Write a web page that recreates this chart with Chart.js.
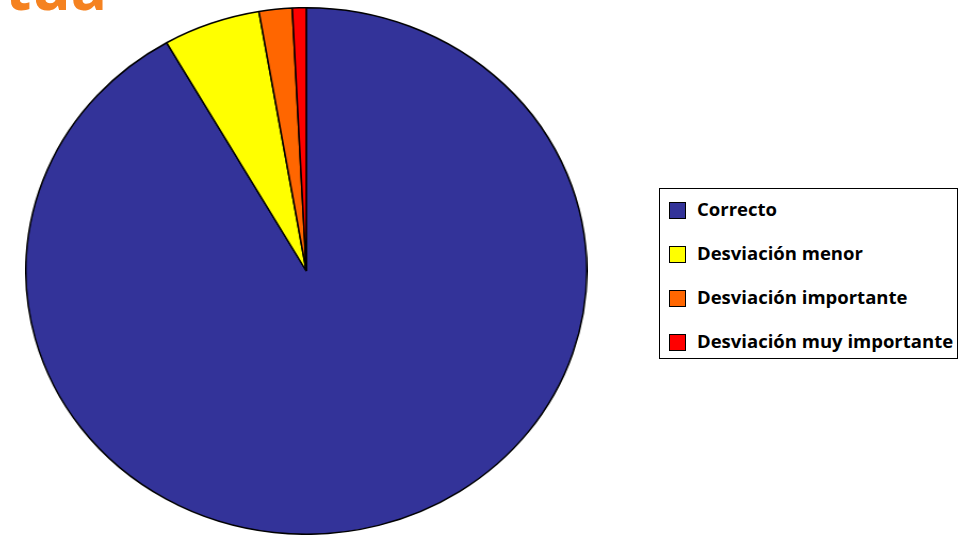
<!DOCTYPE html>
<html>
<head>
<meta charset="utf-8">
<script src="https://cdn.jsdelivr.net/npm/chart.js@4/dist/chart.umd.min.js"></script>
<style>
  html, body { margin: 0; padding: 0; background: #fff; }
  body { width: 958px; height: 535px; position: relative; overflow: hidden; }
  #titulo {
    position: absolute; left: 0; top: -43px; width: 107px; text-align: right;
    font: bold 60px "Open Sans", sans-serif; line-height: 60px; color: #F58220; white-space: nowrap;
  }
  #pieWrap {
    position: absolute; left: 25px; top: 7px; width: 528px; height: 528px;
    transform: scaleX(1.0655); transform-origin: 0 0;
  }
  #leyenda {
    position: absolute; left: 659px; top: 188px; width: 297px; height: 169px;
    border: 1px solid #000; box-sizing: content-box;
  }
  .item {
    position: absolute; left: 9px; height: 22px; line-height: 22px;
    font: bold 18.5px "Open Sans", sans-serif; color: #000; white-space: nowrap;
  }
  .item span.box {
    display: inline-block; width: 17px; height: 17px; border: 1px solid #000;
    vertical-align: -3px; margin-right: 11px; box-sizing: border-box;
  }
</style>
</head>
<body>
<div id="titulo">tua</div>
<div id="pieWrap"><canvas id="pie" width="528" height="528"></canvas></div>
<div id="leyenda"></div>
<script>
// Datos del gráfico (porcentajes)
const categorias = ['Correcto', 'Desviación menor', 'Desviación importante', 'Desviación muy importante'];
const valores = [91.7, 5.6, 1.9, 0.8];
const colores = ['#333399', '#FFFF00', '#FF6600', '#FF0000'];

const ctx = document.getElementById('pie').getContext('2d');

const chart = new Chart(ctx, {
    type: 'pie',
    data: {
        labels: categorias,
        datasets: [{
            data: valores,
            backgroundColor: colores,
            borderColor: '#000000',
            borderWidth: 1.5,
        }],
    },
    options: {
        responsive: false,
        animation: false,
        layout: { padding: 0 },
        plugins: {
            legend: { display: false },
            tooltip: { enabled: false },
        },
    },
});

// Leyenda en HTML con recuadro
const leyenda = document.getElementById('leyenda');
categorias.forEach((cat, i) => {
    const div = document.createElement('div');
    div.className = 'item';
    div.style.top = (7 + i * 44) + 'px';
    const box = document.createElement('span');
    box.className = 'box';
    box.style.background = colores[i];
    div.appendChild(box);
    div.appendChild(document.createTextNode(cat));
    leyenda.appendChild(div);
});
</script>
</body>
</html>
